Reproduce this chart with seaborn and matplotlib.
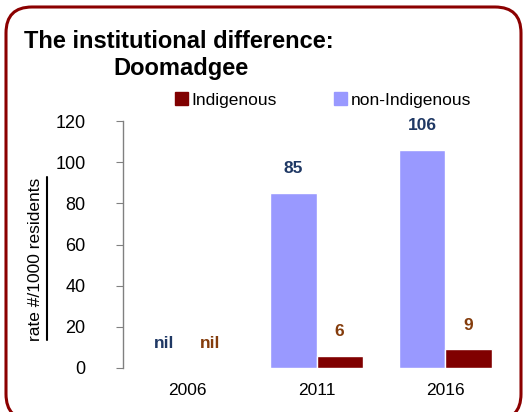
import matplotlib
matplotlib.use("Agg")
import matplotlib.pyplot as plt
import seaborn as sns
import pandas as pd
from matplotlib.patches import FancyBboxPatch, Patch
from matplotlib.lines import Line2D

years = ["2006", "2011", "2016"]
non_indigenous = [0, 85, 106]
indigenous = [0, 6, 9]
non_indigenous_labels = ["nil", "85", "106"]
indigenous_labels = ["nil", "6", "9"]
series_names = ["non-Indigenous", "Indigenous"]
yticks = [0, 20, 40, 60, 80, 100, 120]

sns.set_style("white")
plt.rcParams["font.family"] = ["Liberation Sans", "DejaVu Sans"]
plt.rcParams["text.color"] = "black"
plt.rcParams["xtick.labelcolor"] = "black"
plt.rcParams["ytick.labelcolor"] = "black"

df = pd.DataFrame({
    "year": years * 2,
    "value": non_indigenous + indigenous,
    "group": [series_names[0]] * 3 + [series_names[1]] * 3,
    "label": non_indigenous_labels + indigenous_labels,
})

W, H = 528, 412
fig = plt.figure(figsize=(W / 100, H / 100), dpi=100)
ax = fig.add_axes([123 / W, 1 - 368 / H, (510 - 123) / W, (368 - 121) / H])

palette = {"non-Indigenous": "#9999FF", "Indigenous": "#800000"}
sns.barplot(data=df, x="year", y="value", hue="group", hue_order=series_names,
            palette=palette, width=0.715, ax=ax, legend=False, saturation=1)

label_colors = {"non-Indigenous": "#1F3864", "Indigenous": "#843C0C"}
for container, name in zip(ax.containers, series_names):
    sub = df[df["group"] == name]
    for bar, lab in zip(container, sub["label"]):
        x = bar.get_x() + bar.get_width() / 2
        ax.annotate(lab, (x, bar.get_height()), xytext=(0, 17.5), textcoords="offset points",
                    ha="center", va="center", fontsize=12.5, fontweight="bold",
                    color=label_colors[name])

ax.set_ylim(0, 120)
ax.set_xlim(-0.5, 2.5)
ax.set_yticks(yticks)
ax.set_xlabel("")
ax.set_ylabel("")
for s in ["top", "right", "bottom"]:
    ax.spines[s].set_visible(False)
ax.spines["left"].set_color("#808080")
ax.spines["left"].set_linewidth(1)
ax.tick_params(axis="y", which="both", left=True, length=5, color="#808080",
               labelsize=13, pad=22, labelcolor="black")
ax.tick_params(axis="x", length=0, labelsize=12.5, pad=11, labelcolor="black")

# legend
handles = [Patch(color=palette["Indigenous"]), Patch(color=palette["non-Indigenous"])]
fig.legend(handles, ["Indigenous", "non-Indigenous"], ncol=2, frameon=False,
           loc="center", bbox_to_anchor=(323 / W, 1 - 100 / H), fontsize=12.5,
           handlelength=0.75, handleheight=0.75, handletextpad=0.2, columnspacing=3.3)

# title
fig.text(24 / W, 1 - 41 / H, "The institutional difference:", fontsize=17,
         fontweight="bold", ha="left", va="center")
fig.text(113 / W, 1 - 69 / H, "Doomadgee", fontsize=17,
         fontweight="bold", ha="left", va="center")

# y label with underline
fig.text(36 / W, 1 - 259 / H, "rate #/1000 residents", rotation=90, fontsize=12.5,
         ha="center", va="center")
fig.add_artist(Line2D([47 / W, 47 / W], [1 - 340 / H, 1 - 177 / H], color="black",
                      linewidth=1.5, transform=fig.transFigure))

# rounded border
border = FancyBboxPatch((6, -8), 515, 413, boxstyle="round,pad=0,rounding_size=26",
                        transform=None, fill=False, edgecolor="#8B0000", linewidth=2.2)
fig.add_artist(border)

fig.savefig("out.png", dpi=100)
